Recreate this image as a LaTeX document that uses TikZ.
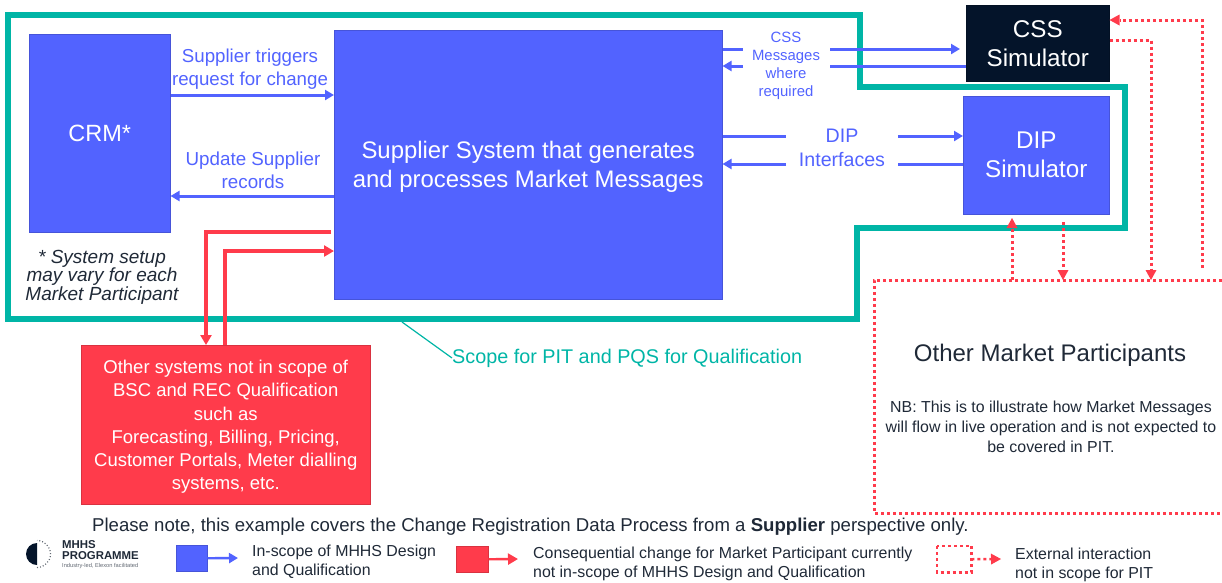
\documentclass[tikz,border=0pt]{standalone}
\usepackage{fontspec}
\setmainfont{Liberation Sans}
\usetikzlibrary{arrows.meta}
\definecolor{mblue}{HTML}{5263FF}
\definecolor{mteal}{HTML}{00B5A6}
\definecolor{mred}{HTML}{FF3B4B}
\definecolor{mblack}{HTML}{04142A}
\definecolor{mgrey}{HTML}{1F2937}
\tikzset{
 box/.style={draw=#1!85!black,line width=0.5pt,fill=#1,text=white,align=center,inner sep=0pt,anchor=north west},
 lbl/.style={text=mblue,align=center,inner sep=0pt},
 blu/.style={draw=mblue,line width=3pt,-{Triangle[length=9pt,width=10pt]}},
 bluplain/.style={draw=mblue,line width=3pt},
 rd/.style={draw=mred,line width=3.4pt,-{Triangle[length=10pt,width=11pt]}},
 dot/.style={draw=mred,line width=3pt,dash pattern=on 3pt off 3pt},
 dota/.style={dot,-{Triangle[length=10pt,width=11pt,line width=0pt]}},
 leg/.style={text=mgrey,align=left,inner sep=0pt,anchor=west,font=\fontsize{15.9}{19}\selectfont},
}
\begin{document}
\begin{tikzpicture}[x=1pt,y=-1pt]
\useasboundingbox (0,0) rectangle (1222,582);
% scope outline
\draw[mteal,line width=6pt,miter limit=10] (8,15) -- (860,15) -- (860,87) -- (1125,87) -- (1125,228) -- (857,228) -- (857,319) -- (8,319) -- cycle;
% main boxes
\node[box=mblue,minimum width=141pt,minimum height=198pt,font=\fontsize{23.5}{25}\selectfont] (crm) at (29,34) {CRM*};
\node[box=mblue,minimum width=388pt,minimum height=269pt,font=\fontsize{23.9}{29.5}\selectfont] (sup) at (334,30) {\rule{0pt}{21.5pt}Supplier System that generates\\and processes Market Messages};
\node[box=mblack,minimum width=143pt,minimum height=76pt,font=\fontsize{24.2}{29}\selectfont] (css) at (966,5) {CSS\\Simulator};
\node[box=mblue,minimum width=146pt,minimum height=118pt,font=\fontsize{24.2}{29}\selectfont] (dip) at (963,96) {DIP\\Simulator};
\node[box=mred,minimum width=289pt,minimum height=159pt,font=\fontsize{18.5}{23.2}\selectfont] (oth) at (81,345) {\rule{0pt}{17.6pt}Other systems not in scope of\\BSC and REC Qualification\\such as\\Forecasting, Billing, Pricing,\\Customer Portals, Meter dialling\\systems, etc.};
% other market participants
\node[inner sep=0pt,minimum width=350pt,minimum height=233pt,anchor=north west] (omp) at (874,280) {};
\draw[dot] (1222,280) -- (874,280) -- (874,513) -- (1222,513);
\node[inner sep=0pt,font=\fontsize{24}{26}\selectfont,text=mgrey] (ompt) at (1050,355) {Other Market Participants};
\node[inner sep=0pt,align=center,text=mgrey,font=\fontsize{15.9}{20}\selectfont] (ompn) at (1051,427) {NB: This is to illustrate how Market Messages\\will flow in live operation and is not expected to\\be covered in PIT.};
% labels
\node[lbl,font=\fontsize{18.7}{23}\selectfont] (l1) at (250,69) {Supplier triggers\\request for change};
\node[lbl,font=\fontsize{18.8}{23}\selectfont] (l2) at (253,170) {Update Supplier\\records};
\node[lbl,font=\fontsize{14.9}{18.2}\selectfont] (l3) at (786,66) {CSS\\Messages\\where\\required};
\node[lbl,font=\fontsize{19.6}{24}\selectfont] (l4) at (842,148) {DIP\\Interfaces};
\node[inner sep=0pt,anchor=west,text=mteal,font=\fontsize{19.8}{20}\selectfont] (l5) at (452,358) {Scope for PIT and PQS for Qualification};
\node[inner sep=0pt,align=center,text=mgrey,font=\itshape\fontsize{19}{18.5}\selectfont] (l6) at (102,277) {* System setup\\may vary for each\\Market Participant};
\coordinate (lead) at (402,322);
\draw[mteal,line width=1.2pt] (lead) -- (l5.west);
% blue arrows
\draw[blu] (crm.east|-0,95) -- (sup.west|-0,95);
\draw[blu] (sup.west|-0,196) -- (crm.east|-0,196);
\draw[bluplain] (sup.east|-0,49) -- (743,49);
\draw[blu] (830,49) -- (960,49);
\draw[bluplain] (css.west|-0,66) -- (830,66);
\draw[blu] (743,66) -- (sup.east|-0,66);
\draw[bluplain] (sup.east|-0,136) -- (786,136);
\draw[blu] (898,136) -- (dip.west|-0,136);
\draw[bluplain] (dip.west|-0,164) -- (898,164);
\draw[blu] (786,164) -- (sup.east|-0,164);
% red arrows
\draw[rd] (331,232) -- (206,232) -- (206,345);
\draw[rd] (225,345) -- (225,251) -- (334,251);
% dotted arrows
\draw[dota] (1202,268) -- (1202,20) -- (css.east|-0,20);
\draw[dota] (css.east|-0,40) -- (1151,40) -- (1151,280);
\draw[dota] (1012,280) -- (1012,218);
\draw[dota] (1063,222) -- (1063,280);
% note
\node[inner sep=0pt,anchor=west,text=mgrey,font=\fontsize{18.6}{20}\selectfont] (note) at (92,527) {Please note, this example covers the Change Registration Data Process from a \textbf{Supplier} perspective only.};
% logo
\fill[mblack] (37,565) arc (90:270:11) -- cycle;
\draw[mgrey!70,line width=1.2pt,dash pattern=on 1pt off 2pt] (37,567.5) arc (90:-90:13.5);
\node[inner sep=0pt,anchor=west,align=left,text=mgrey,font=\bfseries\fontsize{11.4}{11}\selectfont] (lg) at (62,550) {MHHS\\PROGRAMME};
\node[inner sep=0pt,anchor=west,text=mgrey!70,font=\fontsize{5.7}{6}\selectfont] (lg2) at (62,566) {Industry-led, Elexon facilitated};
% legend
\node[box=mblue,minimum width=31pt,minimum height=26pt] (k1) at (176,545) {};
\coordinate (k1e) at (238,558);
\draw[blu,line width=2.4pt] (k1.east) -- (k1e);
\node[leg] (t1) at (252,562) {In-scope of MHHS Design\\and Qualification};
\node[box=mred,minimum width=32pt,minimum height=26pt] (k2) at (456,546) {};
\coordinate (k2e) at (518,559);
\draw[rd,line width=2.4pt] (k2.east) -- (k2e);
\node[leg] (t2) at (533,564) {Consequential change for Market Participant currently\\not in-scope of MHHS Design and Qualification};
\node[inner sep=0pt,minimum width=34pt,minimum height=26pt,anchor=north west] (k3) at (937,546) {};
\draw[dot,line width=2.4pt] (k3.north west) rectangle (k3.south east);
\coordinate (k3e) at (1001,559);
\draw[dota,line width=2.4pt] (k3.east) -- (k3e);
\node[leg] (t3) at (1015,565) {External interaction\\not in scope for PIT};
\end{tikzpicture}
\end{document}
